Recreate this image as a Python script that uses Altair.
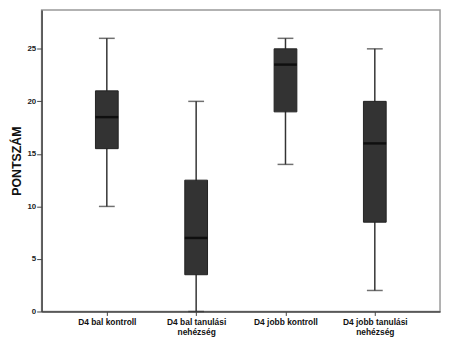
import altair as alt
import pandas as pd

groups = ["D4 bal kontroll", "D4 bal tanulási|nehézség", "D4 jobb kontroll", "D4 jobb tanulási|nehézség"]
mins = [10, 0, 14, 2]
q1s = [15.5, 3.5, 19, 8.5]
medians = [18.5, 7, 23.5, 16]
q3s = [21, 12.5, 25, 20]
maxs = [26, 20, 26, 25]
y_ticks = [0, 5, 10, 15, 20, 25]

df = pd.DataFrame(dict(group=groups, lo=mins, q1=q1s, med=medians, q3=q3s, hi=maxs))

xenc = alt.X(
    "group:N",
    sort=groups,
    scale=alt.Scale(type="point", padding=0.73),
    axis=alt.Axis(
        title=None,
        labelAngle=0,
        labelExpr="split(datum.label, '|')",
        labelFont="Liberation Sans",
        labelFontWeight="bold",
        labelFontSize=8.5,
        labelColor="#111",
        labelLineHeight=10,
        tickSize=4,
        tickColor="#444",
        domainColor="#444",
        domainWidth=1.5,
        labelPadding=2,
    ),
)
yscale = alt.Scale(domain=[0, 28.7], nice=False, zero=True)
yaxis = alt.Axis(
    title="PONTSZÁM",
    values=y_ticks,
    grid=False,
    labelFont="Liberation Sans",
    labelFontWeight="bold",
    labelFontSize=8,
    labelColor="#222",
    tickSize=5,
    tickColor="#444",
    domainColor="#444",
    domainWidth=1.5,
    labelPadding=1,
    titleFont="Liberation Sans",
    titleFontWeight="bold",
    titleFontSize=12.5,
    titleColor="#111",
    titlePadding=3,
)

base = alt.Chart(df)

whisk = base.mark_rule(color="#333", strokeWidth=1.5).encode(
    x=xenc, y=alt.Y("lo:Q", scale=yscale, axis=yaxis), y2="hi:Q"
)
cap_lo = base.mark_tick(color="#333", thickness=1.5, size=16).encode(x=xenc, y=alt.Y("lo:Q", scale=yscale))
cap_hi = base.mark_tick(color="#333", thickness=1.5, size=16).encode(x=xenc, y=alt.Y("hi:Q", scale=yscale))
box = base.mark_bar(color="#333333", stroke="#222", strokeWidth=1, size=23).encode(
    x=xenc, y=alt.Y("q1:Q", scale=yscale), y2="q3:Q"
)
med = base.mark_tick(color="#000", thickness=2.5, size=23).encode(x=xenc, y=alt.Y("med:Q", scale=yscale))

chart = (
    alt.layer(whisk, cap_lo, cap_hi, box, med)
    .properties(
        width=403,
        height=305,
        autosize=alt.AutoSizeParams(type="none"),
        padding={"left": 34, "top": 0, "right": 2, "bottom": 40},
        background="white",
    )
    .configure_view(stroke="#999", strokeWidth=1.5)
)

chart.save("out.html", embed_options={"renderer": "svg", "actions": False})
